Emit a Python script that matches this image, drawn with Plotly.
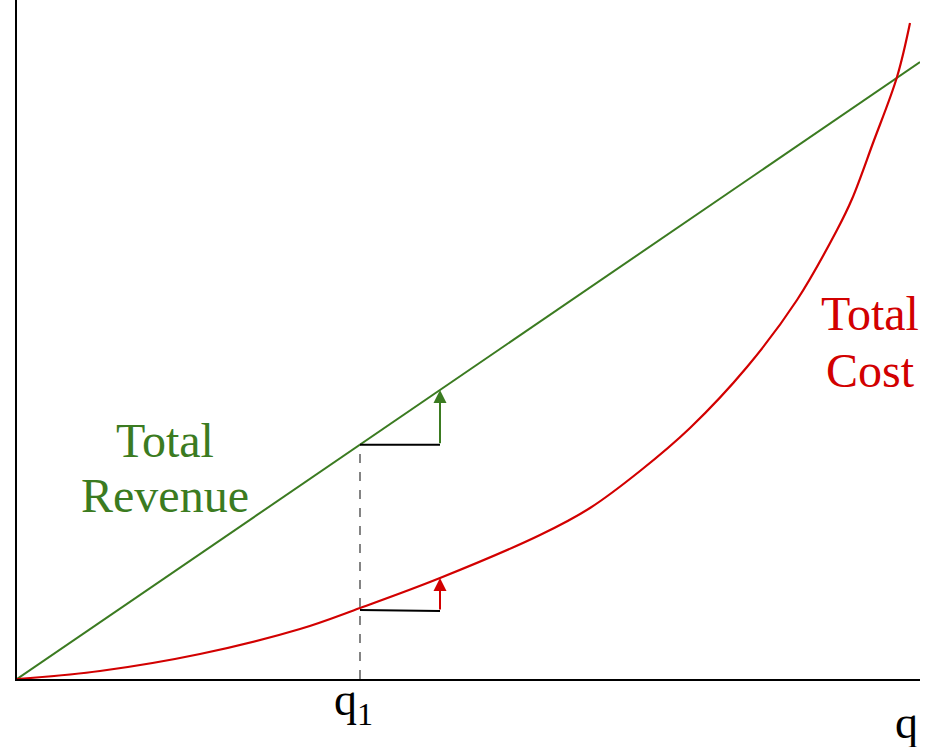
import numpy as np
import plotly.graph_objects as go

# Quantity grid and total cost values (arbitrary units)
cost_q = [0, 83, 183, 283, 343, 423, 523, 573, 623, 673, 730, 780, 820, 835, 856, 880, 893]
cost_v = [0, 8, 25, 50, 71, 101, 144, 171, 208, 251, 312, 379, 449, 480, 536, 602, 656]

# Total revenue: straight line
rev_q = [0, 903]
rev_v = [0, 617]

q1 = 343
q2 = 423

GREEN = "#3b7b21"
RED = "#d20000"
FONT = "Liberation Serif"

rev_at = lambda q: float(np.interp(q, rev_q, rev_v))
cost_at = lambda q: float(np.interp(q, cost_q, cost_v))

fig = go.Figure()

fig.add_trace(go.Scatter(x=rev_q, y=rev_v, mode="lines",
                         line=dict(color=GREEN, width=2), hoverinfo="skip"))
fig.add_trace(go.Scatter(x=cost_q, y=cost_v, mode="lines",
                         line=dict(color=RED, width=2.2, shape="spline", smoothing=1.0),
                         hoverinfo="skip"))

# dashed vertical at q1
fig.add_trace(go.Scatter(x=[q1, q1], y=[0, rev_at(q1)], mode="lines",
                         line=dict(color="#777777", width=1.8, dash="dash"), hoverinfo="skip"))
# black horizontal steps
fig.add_trace(go.Scatter(x=[q1, q2], y=[rev_at(q1), rev_at(q1)], mode="lines",
                         line=dict(color="black", width=2), hoverinfo="skip"))
fig.add_trace(go.Scatter(x=[q1, q2], y=[cost_at(q1) - 2, cost_at(q1) - 3], mode="lines",
                         line=dict(color="black", width=2), hoverinfo="skip"))

annotations = [
    dict(x=q2, y=rev_at(q2), ax=q2, ay=rev_at(q1), xref="x", yref="y", axref="x", ayref="y",
         showarrow=True, arrowhead=2, arrowsize=1.3, arrowwidth=2, arrowcolor=GREEN, text=""),
    dict(x=q2, y=cost_at(q2), ax=q2, ay=cost_at(q1) - 3, xref="x", yref="y", axref="x", ayref="y",
         showarrow=True, arrowhead=2, arrowsize=1.3, arrowwidth=2, arrowcolor=RED, text=""),
    dict(x=148, y=239, text="Total", showarrow=False, font=dict(family=FONT, size=48, color=GREEN)),
    dict(x=148, y=184, text="Revenue", showarrow=False, font=dict(family=FONT, size=48, color=GREEN)),
    dict(x=853, y=366, text="Total", showarrow=False, font=dict(family=FONT, size=48, color=RED)),
    dict(x=853, y=309, text="Cost", showarrow=False, font=dict(family=FONT, size=48, color=RED)),
    dict(x=q1, y=0, yref="paper", xshift=-7, yshift=7, yanchor="top", text="q<sub>1</sub>",
         showarrow=False, font=dict(family=FONT, size=46, color="black")),
    dict(x=889, y=0, yref="paper", yshift=-16, yanchor="top", text="q",
         showarrow=False, font=dict(family=FONT, size=46, color="black")),
]

fig.update_layout(
    width=934, height=747,
    margin=dict(l=17, r=14, t=0, b=68),
    paper_bgcolor="white", plot_bgcolor="white",
    showlegend=False,
    annotations=annotations,
    xaxis=dict(range=[0, 903], showgrid=False, zeroline=False, showticklabels=False,
               ticks="", showline=True, linecolor="black", linewidth=2, fixedrange=True),
    yaxis=dict(range=[0, 679], showgrid=False, zeroline=False, showticklabels=False,
               ticks="", showline=True, linecolor="black", linewidth=2, fixedrange=True),
)

fig.write_html("out.html", config={"displayModeBar": False},
               post_script="document.body.style.margin='0';")
